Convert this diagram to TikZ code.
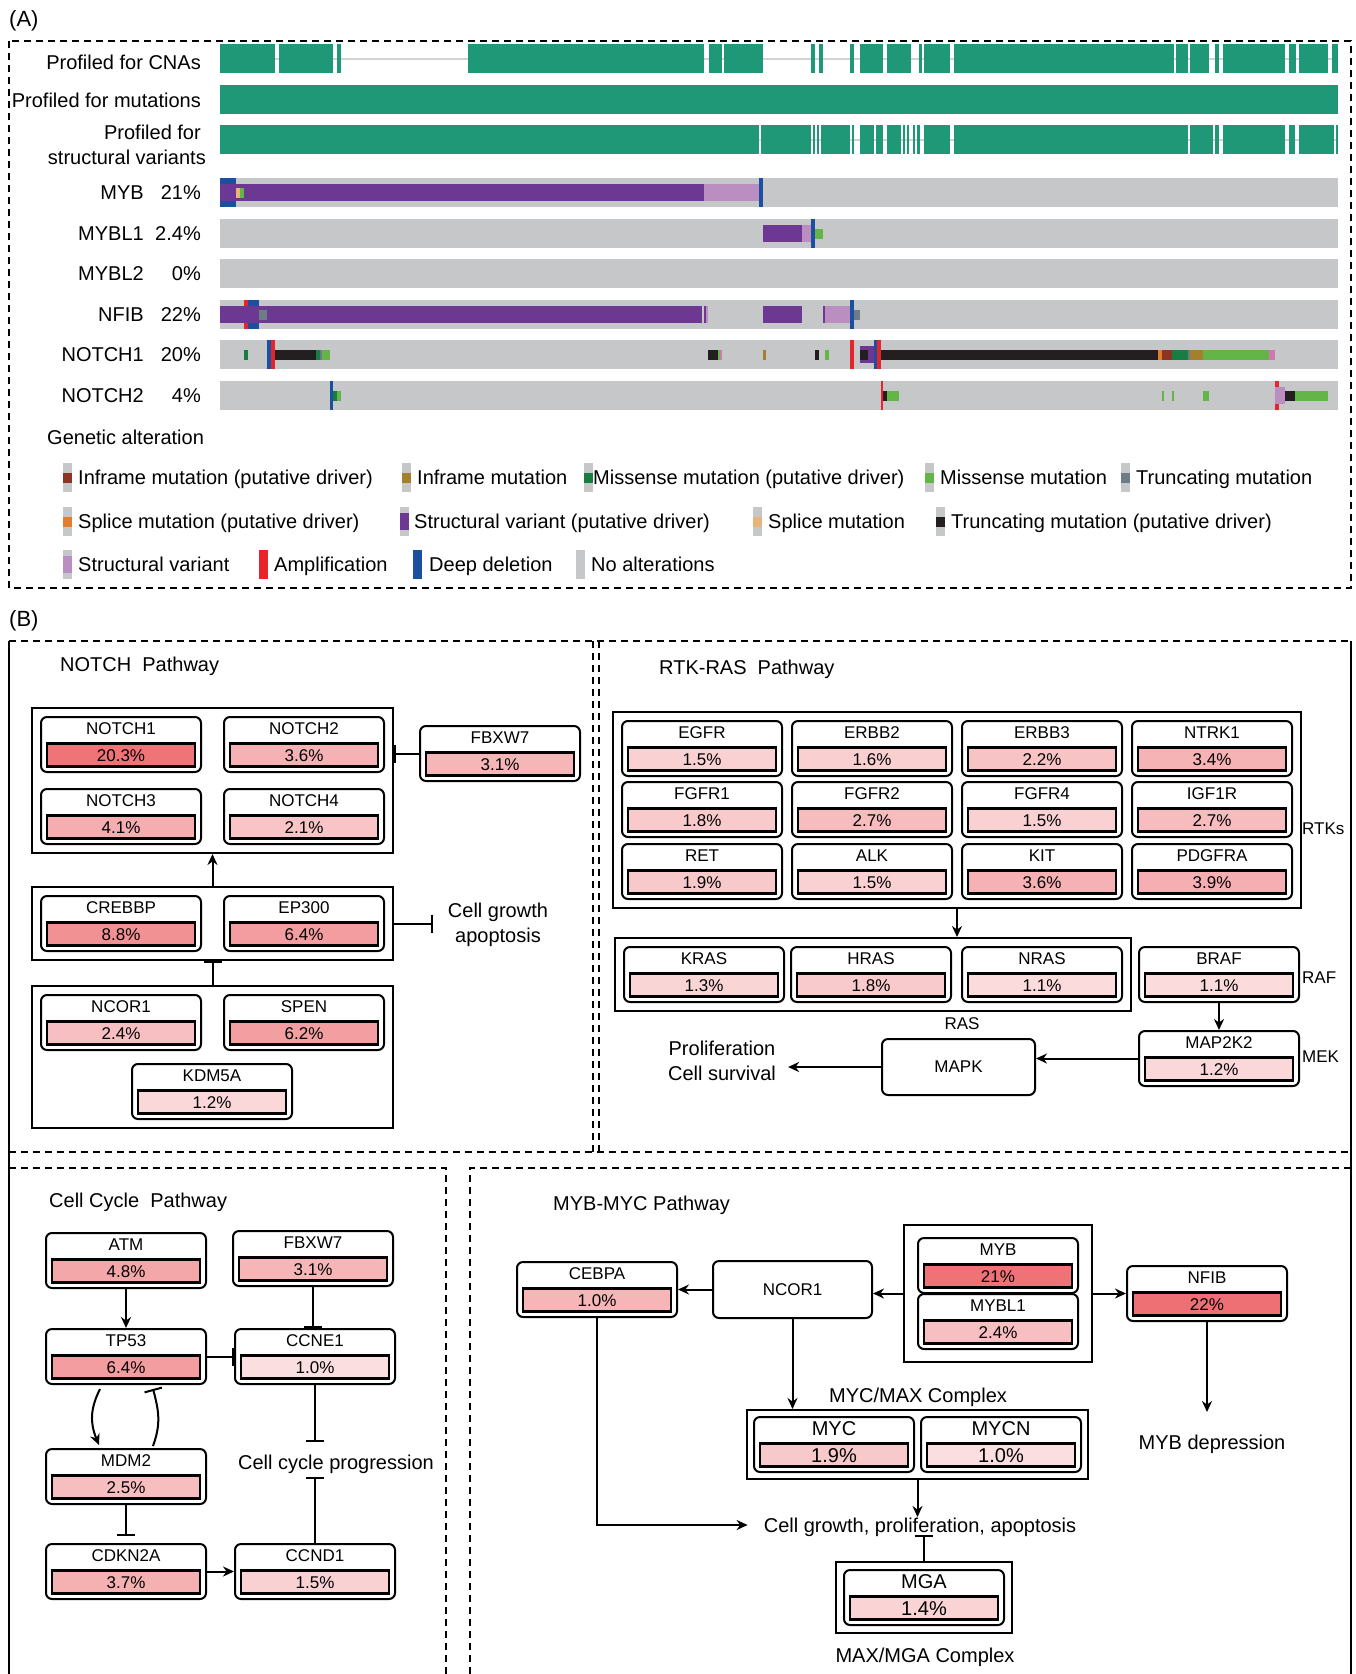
\documentclass[tikz,border=0pt]{standalone}
\usepackage{fontspec}
\setmainfont{Liberation Sans}
\usetikzlibrary{positioning,calc,fit,arrows.meta}

\definecolor{prof}{HTML}{1F9877}
\definecolor{noalt}{HTML}{C6C7C9}
\definecolor{svdrv}{HTML}{6D3794}
\definecolor{sv}{HTML}{BA8EC1}
\definecolor{ampl}{HTML}{E8242B}
\definecolor{ddel}{HTML}{1B4FA0}
\definecolor{trdrv}{HTML}{231F20}
\definecolor{trunc}{HTML}{6E7C8A}
\definecolor{misdrv}{HTML}{177D43}
\definecolor{mis}{HTML}{62B546}
\definecolor{infdrv}{HTML}{8E3425}
\definecolor{inf}{HTML}{A37F2E}
\definecolor{spldrv}{HTML}{E17D2E}
\definecolor{spl}{HTML}{E8B47B}
\definecolor{pinkmut}{HTML}{CF78B1}
\definecolor{hot}{HTML}{EC6469}

\newcommand\bigfont{\fontsize{20}{24}\selectfont}
\newcommand\genefont{\fontsize{17}{20}\selectfont}

% oncoprint cells: row top, colour, from, to
\newcommand\altfull[4]{\fill[#2] (#3,#1) rectangle (#4,#1+29);}
\newcommand\altsv[4]{\fill[#2] (#3,#1+6) rectangle (#4,#1+23);}
\newcommand\altmut[4]{\fill[#2] (#3,#1+9.5) rectangle (#4,#1+19.5);}
\newcommand\altnone[4]{}

% legend entry: top, swatch x, kind, colour, text x, text
\newcommand\legitem[6]{%
  \fill[noalt] (#2,#1) rectangle (#2+9,#1+29);
  #3{#1}{#4}{#2}{#2+9}
  \node[lbl, anchor=west] (leg-#1-#5) at (#5,#1+14.5) {#6};}

% gene box: [style] name, top left, label, percent
\newcommand\gene[5][]{%
  \node[genebox, anchor=north west] (#2) at (#3) {};
  \node[genename, #1, fill=none] (#2-name) at ($(#2.north)+(0,12)$) {#4};
  \pgfmathtruncatemacro\pctshade{min(95,21+23*ln(#5))}%
  \node[genebar, fill=hot!\pctshade, #1] (#2-bar) at ($(#2.south)+(0,-18)$) {#5\%};}

\begin{document}
\begin{tikzpicture}[x=1pt, y=-1pt,
  act/.style={-{Stealth[length=11pt,width=10pt]}, line width=2pt},
  inh/.style={-{Bar[width=18pt]}, line width=2pt},
  dashbox/.style={line width=2pt, dash pattern=on 7pt off 5pt},
  lbl/.style={font=\bigfont, inner sep=0pt, text height=14pt, text depth=0pt},
  smalltxt/.style={font=\genefont, inner sep=0pt, text height=12pt, text depth=0pt},
  txt/.style={font=\fontsize{20}{25}\selectfont, align=center, inner sep=0pt},
  genebox/.style={draw, line width=2pt, rounded corners=6pt, minimum width=160pt, minimum height=55pt, inner sep=0pt},
  genename/.style={smalltxt},
  genebar/.style={draw, line width=2.5pt, minimum width=148pt, minimum height=23pt, inner sep=0pt, font=\genefont, text height=12pt, text depth=0pt},
  bigtxt/.style={font=\bigfont, text height=14pt},
  plainbox/.style={draw, line width=2pt, rounded corners=6pt, inner sep=0pt, font=\genefont},
  grp/.style={draw, line width=2pt, inner sep=8pt}]

\useasboundingbox (0,0) rectangle (1356,1674);

%%% (A) oncoprint
\node[lbl, font=\fontsize{22}{26}\selectfont, anchor=west] (panelA) at (9,19) {(A)};
\draw[dashbox] (9,41) rectangle (1351,588);

\node[lbl, anchor=east] (l-cna) at (201,62) {Profiled for CNAs};
\node[lbl, anchor=east] (l-mut) at (201,100) {Profiled for mutations};
\node[lbl, anchor=east] (l-sv1) at (201,132) {Profiled for};
\node[lbl, anchor=east] (l-sv2) at (206,157) {structural variants};

\draw[gray!35, line width=2pt] (220,58.5) -- (1338,58.5);
\draw[gray!35, line width=2pt] (220,139.5) -- (1338,139.5);
\foreach \a/\b in {220/274.5,279/332.6,337/341,468/704,708.5/722,724/763,811/815,819/822.5,850/854,860/883,887/911,919/922,924/950,954/1174,1176/1188,1190/1209,1215/1219,1223/1285,1289/1295.5,1299/1328,1332/1338}
  \fill[prof] (\a,44) rectangle (\b,73);
\fill[prof] (220,85) rectangle (1338,114);
\foreach \a/\b in {220/759,761/811,813/815,817/819,821/850,852/854,860/874,876/883,887/901,903/905,907/909,913/915,917/920,924/950,954/1188,1190/1213,1215/1219,1223/1285,1289/1295,1299/1334,1336/1338}
  \fill[prof] (\a,125) rectangle (\b,154);

\foreach \gn/\pc/\yy in {MYB/21/178,MYBL1/2.4/219,MYBL2/0/259,NFIB/22/300,NOTCH1/20/340,NOTCH2/4/381}{
  \fill[noalt] (220,\yy) rectangle (1338,\yy+29);
  \node[lbl, anchor=east] (g-\gn) at (144,\yy+14.5) {\gn};
  \node[lbl, anchor=east] (p-\gn) at (201,\yy+14.5) {\pc\%};
}

% MYB
\foreach \col/\a/\b in {ddel/220/236,ddel/759/763} {\altfull{178}{\col}{\a}{\b}}
\foreach \col/\a/\b in {svdrv/220/704,sv/704/759} {\altsv{178}{\col}{\a}{\b}}
\foreach \col/\a/\b in {spl/236/240,mis/240/244} {\altmut{178}{\col}{\a}{\b}}
% MYBL1
\foreach \col/\a/\b in {svdrv/763/802,sv/802/811} {\altsv{219}{\col}{\a}{\b}}
\altfull{219}{ddel}{811}{815}
\altmut{219}{mis}{815}{823}
% NFIB
\foreach \col/\a/\b in {ampl/244/248,ddel/248/259,ddel/850/854} {\altfull{300}{\col}{\a}{\b}}
\foreach \col/\a/\b in {svdrv/220/702,svdrv/704/706,sv/706/708,svdrv/763/802,svdrv/823/825,sv/825/850} {\altsv{300}{\col}{\a}{\b}}
\foreach \col/\a/\b in {trunc/259/267,trunc/854/860} {\altmut{300}{\col}{\a}{\b}}
% NOTCH1
\foreach \col/\a/\b in {ddel/267/271,ampl/271/275,ampl/850/854,ddel/874/877,ampl/877/881} {\altfull{340}{\col}{\a}{\b}}
\altsv{340}{svdrv}{860}{874}
\foreach \col/\a/\b in {misdrv/244/248,trdrv/275/316,misdrv/316/320,trunc/320/322,mis/322/330,trdrv/708/718,mis/718/720,pinkmut/720/722,inf/763/766,trdrv/815/819,mis/825/829,trdrv/860/868,trdrv/881/1158,spldrv/1158/1162,infdrv/1162/1172,misdrv/1172/1188,trunc/1188/1190,inf/1190/1203,mis/1203/1269,pinkmut/1269/1275} {\altmut{340}{\col}{\a}{\b}}
% NOTCH2
\foreach \col/\a/\b in {ddel/330/333,ampl/881/883,ampl/1275/1279} {\altfull{381}{\col}{\a}{\b}}
\altsv{381}{sv}{1275}{1285}
\foreach \col/\a/\b in {misdrv/333/337,mis/337/341,trdrv/883/887,mis/887/899,mis/1162/1164,mis/1172/1174,mis/1203/1209,trdrv/1285/1295,mis/1295/1328} {\altmut{381}{\col}{\a}{\b}}

% legend
\node[lbl, anchor=west] (genalt) at (47,437) {Genetic alteration};
\legitem{463}{63}{\altmut}{infdrv}{78}{Inframe mutation (putative driver)}
\legitem{463}{402}{\altmut}{inf}{417}{Inframe mutation}
\legitem{463}{584}{\altmut}{misdrv}{593}{Missense mutation (putative driver)}
\legitem{463}{925}{\altmut}{mis}{940}{Missense mutation}
\legitem{463}{1121}{\altmut}{trunc}{1136}{Truncating mutation}
\legitem{507}{63}{\altmut}{spldrv}{78}{Splice mutation (putative driver)}
\legitem{507}{400}{\altsv}{svdrv}{414}{Structural variant (putative driver)}
\legitem{507}{753}{\altmut}{spl}{768}{Splice mutation}
\legitem{507}{936}{\altmut}{trdrv}{951}{Truncating mutation (putative driver)}
\legitem{550}{63}{\altsv}{sv}{78}{Structural variant}
\legitem{550}{259}{\altfull}{ampl}{274}{Amplification}
\legitem{550}{413}{\altfull}{ddel}{429}{Deep deletion}
\legitem{550}{576}{\altnone}{noalt}{591}{No alterations}

%%% (B) pathways
\node[lbl, font=\fontsize{22}{26}\selectfont, anchor=west] (panelB) at (9,619) {(B)};
\draw[dashbox] (9,641) -- (1351,641);
\draw[line width=2pt] (9,641) -- (9,1674);
\draw[line width=2pt] (1351,641) -- (1351,1674);
\draw[dashbox] (593,641) -- (593,1152);
\draw[dashbox] (599,641) -- (599,1152);
\draw[dashbox] (9,1152) -- (1351,1152);
\draw[dashbox] (9,1168) -- (446,1168) -- (446,1674);
\draw[dashbox] (470,1674) -- (470,1168) -- (1351,1168);

% NOTCH
\node[lbl, anchor=west] (t-notch) at (60,664) {NOTCH~~Pathway};
\gene{notch1}{40,716}{NOTCH1}{20.3}
\gene{notch2}{223,716}{NOTCH2}{3.6}
\gene{notch3}{40,788}{NOTCH3}{4.1}
\gene{notch4}{223,788}{NOTCH4}{2.1}
\node[grp, fit=(notch1)(notch4)] (notchgrp) {};
\gene{n-fbxw7}{419,725}{FBXW7}{3.1}
\gene{crebbp}{40,895}{CREBBP}{8.8}
\gene{ep300}{223,895}{EP300}{6.4}
\node[grp, fit=(crebbp)(ep300)] (cbpgrp) {};
\gene{n-ncor1}{40,994}{NCOR1}{2.4}
\gene{spen}{223,994}{SPEN}{6.2}
\gene{kdm5a}{131,1063}{KDM5A}{1.2}
\node[grp, fit=(n-ncor1)(spen)(kdm5a)] (ncorgrp) {};
\node[txt] (cgap) at (498,925) {Cell growth\\apoptosis};

\draw[inh] (n-fbxw7.west) -- (notchgrp.east |- n-fbxw7.west);
\draw[act] (cbpgrp.north) -- (notchgrp.south);
\draw[inh] (ncorgrp.north) -- (cbpgrp.south);
\draw[inh] (cbpgrp.east) -- ++(39,0);

% RTK-RAS
\node[lbl, anchor=west] (t-rtk) at (659,667) {RTK-RAS~~Pathway};
\gene{egfr}{621,720}{EGFR}{1.5}
\gene{erbb2}{791,720}{ERBB2}{1.6}
\gene{erbb3}{961,720}{ERBB3}{2.2}
\gene{ntrk1}{1131,720}{NTRK1}{3.4}
\gene{fgfr1}{621,781}{FGFR1}{1.8}
\gene{fgfr2}{791,781}{FGFR2}{2.7}
\gene{fgfr4}{961,781}{FGFR4}{1.5}
\gene{igf1r}{1131,781}{IGF1R}{2.7}
\gene{ret}{621,843}{RET}{1.9}
\gene{alk}{791,843}{ALK}{1.5}
\gene{kit}{961,843}{KIT}{3.6}
\gene{pdgfra}{1131,843}{PDGFRA}{3.9}
\node[grp, fit=(egfr)(pdgfra)] (rtkgrp) {};
\node[smalltxt, anchor=west] (rtks) at (1302,828) {RTKs};
\gene{kras}{623,946}{KRAS}{1.3}
\gene{hras}{790,946}{HRAS}{1.8}
\gene{nras}{961,946}{NRAS}{1.1}
\node[grp, fit=(kras)(nras)] (rasgrp) {};
\node[smalltxt] (ras) at (962,1023) {RAS};
\gene{braf}{1138,946}{BRAF}{1.1}
\node[smalltxt, anchor=west] (raf) at (1302,977) {RAF};
\gene{map2k2}{1138,1030}{MAP2K2}{1.2}
\node[smalltxt, anchor=west] (mek) at (1302,1056) {MEK};
\node[plainbox, minimum width=153pt, minimum height=56pt, anchor=north west] (mapk) at (881,1038) {MAPK};
\node[txt, inner xsep=12pt] (prolif) at (722,1061) {Proliferation\\Cell survival};

\draw[act] (rtkgrp.south) -- (rtkgrp.south |- rasgrp.north);
\draw[act] (braf.south) -- (map2k2.north);
\draw[act] (map2k2.west) -- (map2k2.west -| mapk.east);
\draw[act] (mapk.west) -- (mapk.west -| prolif.east);

% Cell cycle
\node[lbl, anchor=west] (t-cc) at (49,1200) {Cell Cycle~~Pathway};
\gene{atm}{45,1232}{ATM}{4.8}
\gene{c-fbxw7}{232,1230}{FBXW7}{3.1}
\gene{tp53}{45,1328}{TP53}{6.4}
\gene{ccne1}{234,1328}{CCNE1}{1.0}
\gene{mdm2}{45,1448}{MDM2}{2.5}
\gene{cdkn2a}{45,1543}{CDKN2A}{3.7}
\gene{ccnd1}{234,1543}{CCND1}{1.5}
\node[lbl] (ccp) at (336,1462) {Cell cycle progression};

\draw[act] (atm.south) -- (tp53.north);
\draw[inh] (c-fbxw7.south) -- (c-fbxw7.south |- ccne1.north);
\draw[inh] (tp53.east) -- (ccne1.west);
\draw[act] ($(tp53.south)+(-26,4)$) .. controls +(-10,20) and +(-9,-22) .. ($(mdm2.north)+(-27,-3)$);
\draw[inh] ($(mdm2.north)+(27,-2)$) .. controls +(8,-22) and +(6,22) .. ($(tp53.south)+(27,4)$);
\draw[inh] (mdm2.south) -- ++(0,31);
\draw[act] (cdkn2a.east) -- (ccnd1.west);
\draw[inh] (ccne1.south) -- ++(0,57);
\draw[inh] (ccnd1.north) -- ++(0,-66);

% MYB-MYC
\node[lbl, anchor=west] (t-myb) at (553,1203) {MYB-MYC Pathway};
\gene[fill=hot!47]{cebpa}{516,1261}{CEBPA}{1.0}
\node[plainbox, minimum width=159pt, minimum height=57pt, anchor=north west] (m-ncor1) at (712,1260) {NCOR1};
\gene{myb}{917,1237}{MYB}{21}
\gene{mybl1}{917,1293}{MYBL1}{2.4}
\node[grp, inner xsep=13pt, inner ysep=12pt, fit=(myb)(mybl1)] (mybgrp) {};
\gene{nfib}{1126,1265}{NFIB}{22}
\node[lbl] (mybdep) at (1212,1442) {MYB depression};
\gene[bigtxt]{myc}{753,1416}{MYC}{1.9}
\gene[bigtxt]{mycn}{920,1416}{MYCN}{1.0}
\node[grp, inner sep=6pt, fit=(myc)(mycn)] (mycgrp) {};
\node[lbl] (mycmax) at (918,1395) {MYC/MAX Complex};
\node[lbl] (cgpa) at (920,1525) {Cell growth, proliferation, apoptosis};
\gene[bigtxt]{mga}{843,1569}{MGA}{1.4}
\node[grp, inner sep=7pt, fit=(mga)] (mgagrp) {};
\node[lbl] (maxmga) at (925,1655) {MAX/MGA Complex};

\draw[act] (mybgrp.west) -- (mybgrp.west -| m-ncor1.east);
\draw[act] (m-ncor1.west) -- (m-ncor1.west -| cebpa.east);
\draw[act] (mybgrp.east) -- (mybgrp.east -| nfib.west);
\draw[act] (nfib.south) -- ++(0,90);
\draw[act] (m-ncor1.south) -- (m-ncor1.south |- mycgrp.north);
\draw[act] (mycgrp.south) -- ++(0,37);
\draw[act] (cebpa.south) |- ([xshift=-16pt]cgpa.west);
\draw[inh] (mgagrp.north) -- ++(0,-26);

\end{tikzpicture}
\end{document}
